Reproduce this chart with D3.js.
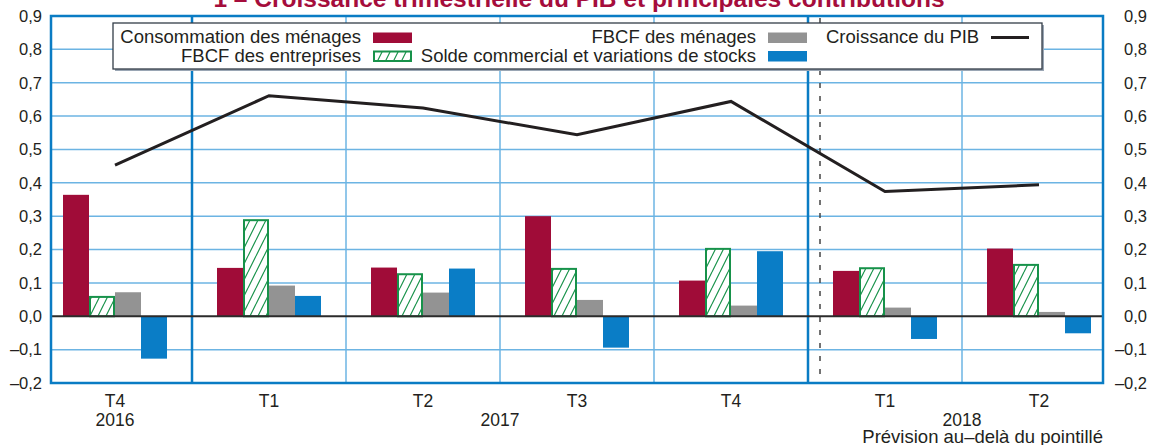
<!DOCTYPE html>
<html>
<head>
<meta charset="utf-8">
<script src="https://cdn.jsdelivr.net/npm/d3@7"></script>
<style>
  body { margin: 0; background: #fff; }
  text { font-family: "Liberation Sans", Arial, Helvetica, sans-serif; fill: #231f20; }
</style>
</head>
<body>
<script>
// data
var periods = ["2016T4", "2017T1", "2017T2", "2017T3", "2017T4", "2018T1", "2018T2"];
var quarters = ["T4", "T1", "T2", "T3", "T4", "T1", "T2"];
var years = [
  { label: "2016", first: 0, last: 0 },
  { label: "2017", first: 1, last: 4 },
  { label: "2018", first: 5, last: 6 }
];
var consommation = [0.364, 0.145, 0.146, 0.300, 0.107, 0.136, 0.203];
var fbcfEntreprises = [0.058, 0.288, 0.126, 0.142, 0.202, 0.144, 0.154];
var fbcfMenages = [0.072, 0.092, 0.071, 0.049, 0.032, 0.026, 0.013];
var soldeStocks = [-0.127, 0.061, 0.143, -0.094, 0.195, -0.068, -0.051];
var pib = [0.453, 0.661, 0.624, 0.544, 0.644, 0.374, 0.394];
var yTicks = [-0.2, -0.1, 0, 0.1, 0.2, 0.3, 0.4, 0.5, 0.6, 0.7, 0.8, 0.9];
var forecastFrom = "2018T1";

var width = 1153, height = 445;
var plotLeft = 51, plotRight = 1103;

var colors = {
  conso: "#a00c38",
  fbcfE: "#17924a",
  fbcfM: "#939393",
  solde: "#0a7dc6",
  frame: "#0a7cc4",
  grid: "#6cb4e3"
};

var series = [
  { key: "conso", values: consommation },
  { key: "fbcfE", values: fbcfEntreprises },
  { key: "fbcfM", values: fbcfMenages },
  { key: "solde", values: soldeStocks }
];

var fr = d3.formatLocale({ decimal: ",", thousands: " ", grouping: [3], currency: ["", " €"], minus: "\u2013" });
var fmt = fr.format(".1f");

var svg = d3.select("body").append("svg")
  .attr("width", width)
  .attr("height", height);

var defs = svg.append("defs");
defs.append("pattern")
  .attr("id", "hatch")
  .attr("patternUnits", "userSpaceOnUse")
  .attr("width", 8)
  .attr("height", 16)
  .call(function (p) {
    p.append("rect").attr("width", 8).attr("height", 16).attr("fill", "#fff");
    p.append("path").attr("d", "M0,16L8,0M-4,8L0,0M8,16L12,8")
      .attr("stroke", colors.fbcfE).attr("stroke-width", 1.2);
  });
defs.append("clipPath").attr("id", "plotclip")
  .append("rect").attr("x", plotLeft).attr("y", 0).attr("width", plotRight - plotLeft).attr("height", height);

var x = d3.scaleBand().domain(periods).range([38, 1116]);
var inner = d3.scaleBand().domain(series.map(function (s) { return s.key; })).range([25, 129]);
var y = d3.scaleLinear().domain([-0.2, 0.9]).range([383, 16]);

// title (cut at the top in the reference)
svg.append("text")
  .attr("x", 579).attr("y", 7)
  .attr("text-anchor", "middle")
  .style("font-size", "24.5px").style("font-weight", "bold").style("fill", "#a50d3c")
  .text("1 \u2013 Croissance trimestrielle du PIB et principales contributions");

var plot = svg.append("g").attr("clip-path", "url(#plotclip)");

// horizontal grid
plot.selectAll(".hgrid").data(yTicks.filter(function (d) { return d !== 0; }))
  .enter().append("line")
  .attr("x1", plotLeft).attr("x2", plotRight)
  .attr("y1", function (d) { return y(d); }).attr("y2", function (d) { return y(d); })
  .attr("stroke", colors.grid).attr("stroke-width", 1.5);

// vertical separators between quarters
var seps = periods.slice(1);
plot.selectAll(".vgrid").data(seps).enter().append("line")
  .attr("x1", function (d) { return x(d); }).attr("x2", function (d) { return x(d); })
  .attr("y1", y(0.9)).attr("y2", y(-0.2))
  .attr("stroke", function (d) { return d.slice(4) === "T1" ? colors.frame : colors.grid; })
  .attr("stroke-width", function (d) { return d.slice(4) === "T1" ? 2.5 : 1.5; });

// bars
series.forEach(function (s) {
  plot.selectAll(".bar-" + s.key).data(s.values).enter().append("rect")
    .attr("x", function (d, i) { return x(periods[i]) + inner(s.key) + (s.key === "fbcfE" ? 1 : 0); })
    .attr("width", inner.bandwidth() - (s.key === "fbcfE" ? 2 : 0))
    .attr("y", function (d) { return y(Math.max(0, d)); })
    .attr("height", function (d) { return Math.abs(y(d) - y(0)); })
    .attr("fill", s.key === "fbcfE" ? "url(#hatch)" : colors[s.key])
    .attr("stroke", s.key === "fbcfE" ? colors.fbcfE : "none")
    .attr("stroke-width", s.key === "fbcfE" ? 2 : 0);
});

// forecast dashed line
var fx = x(forecastFrom) + 12;
plot.append("line")
  .attr("x1", fx).attr("x2", fx)
  .attr("y1", y(0.9) + 2).attr("y2", y(-0.2))
  .attr("stroke", "#444").attr("stroke-width", 1.5)
  .attr("stroke-dasharray", "5,8");

// zero line
plot.append("line")
  .attr("x1", plotLeft).attr("x2", plotRight)
  .attr("y1", y(0)).attr("y2", y(0))
  .attr("stroke", "#2b2b2b").attr("stroke-width", 2);

// GDP line
var line = d3.line()
  .x(function (d, i) { return x(periods[i]) + x.bandwidth() / 2; })
  .y(function (d) { return y(d); });
plot.append("path").datum(pib)
  .attr("d", line)
  .attr("fill", "none").attr("stroke", "#231f20").attr("stroke-width", 3)
  .attr("stroke-linejoin", "miter");

// frame
svg.append("rect")
  .attr("x", plotLeft).attr("y", y(0.9))
  .attr("width", plotRight - plotLeft).attr("height", y(-0.2) - y(0.9))
  .attr("fill", "none").attr("stroke", colors.frame).attr("stroke-width", 2.5);

// y axes
var yl = svg.append("g").attr("transform", "translate(42,0)")
  .call(d3.axisLeft(y).tickValues(yTicks).tickFormat(fmt).tickSize(0).tickPadding(0));
var yr = svg.append("g").attr("transform", "translate(1147,0)")
  .call(d3.axisLeft(y).tickValues(yTicks).tickFormat(fmt).tickSize(0).tickPadding(0));
[yl, yr].forEach(function (g) {
  g.select(".domain").remove();
  g.selectAll("text").style("font-size", "16.5px").style("font-family", null).attr("fill", "#231f20");
});

// x labels
svg.selectAll(".qlab").data(quarters).enter().append("text")
  .attr("x", function (d, i) { return x(periods[i]) + x.bandwidth() / 2; })
  .attr("y", 407)
  .attr("text-anchor", "middle")
  .style("font-size", "17.5px")
  .text(function (d) { return d; });
svg.selectAll(".ylab").data(years).enter().append("text")
  .attr("x", function (d) { return (x(periods[d.first]) + x(periods[d.last]) + x.bandwidth()) / 2; })
  .attr("y", 426)
  .attr("text-anchor", "middle")
  .style("font-size", "17.5px")
  .text(function (d) { return d.label; });
svg.append("text")
  .attr("x", plotRight).attr("y", 443)
  .attr("text-anchor", "end")
  .style("font-size", "18.5px")
  .text("Prévision au\u2013delà du pointillé");

// legend
var lg = svg.append("g");
lg.append("rect").attr("x", 115).attr("y", 25).attr("width", 929).attr("height", 46)
  .attr("fill", "#9aa6b4");
lg.append("rect").attr("x", 113).attr("y", 23).attr("width", 929).attr("height", 46)
  .attr("fill", "#fff").attr("stroke", "#333d48").attr("stroke-width", 1.3);

var legendItems = [
  { label: "Consommation des ménages", key: "conso", tx: 361, sx: 373, row: 0 },
  { label: "FBCF des entreprises", key: "fbcfE", tx: 361, sx: 373, row: 1 },
  { label: "FBCF des ménages", key: "fbcfM", tx: 756, sx: 768, row: 0 },
  { label: "Solde commercial et variations de stocks", key: "solde", tx: 756, sx: 768, row: 1 }
];
legendItems.forEach(function (it) {
  var by = it.row === 0 ? 43 : 61.5;
  lg.append("text").attr("x", it.tx).attr("y", by).attr("text-anchor", "end")
    .style("font-size", "18.5px").text(it.label);
  lg.append("rect").attr("x", it.sx + (it.key === "fbcfE" ? 1 : 0)).attr("y", by - 10.5 + (it.key === "fbcfE" ? 0.5 : 0))
    .attr("width", 39 - (it.key === "fbcfE" ? 2 : 0)).attr("height", it.key === "fbcfE" ? 9.5 : 10.5)
    .attr("fill", it.key === "fbcfE" ? "url(#hatch)" : colors[it.key])
    .attr("stroke", it.key === "fbcfE" ? colors.fbcfE : "none")
    .attr("stroke-width", it.key === "fbcfE" ? 2 : 0);
});
lg.append("text").attr("x", 826).attr("y", 43)
  .style("font-size", "18.5px").text("Croissance du PIB");
lg.append("line").attr("x1", 991).attr("x2", 1029).attr("y1", 37.5).attr("y2", 37.5)
  .attr("stroke", "#231f20").attr("stroke-width", 3);
</script>
</body>
</html>
